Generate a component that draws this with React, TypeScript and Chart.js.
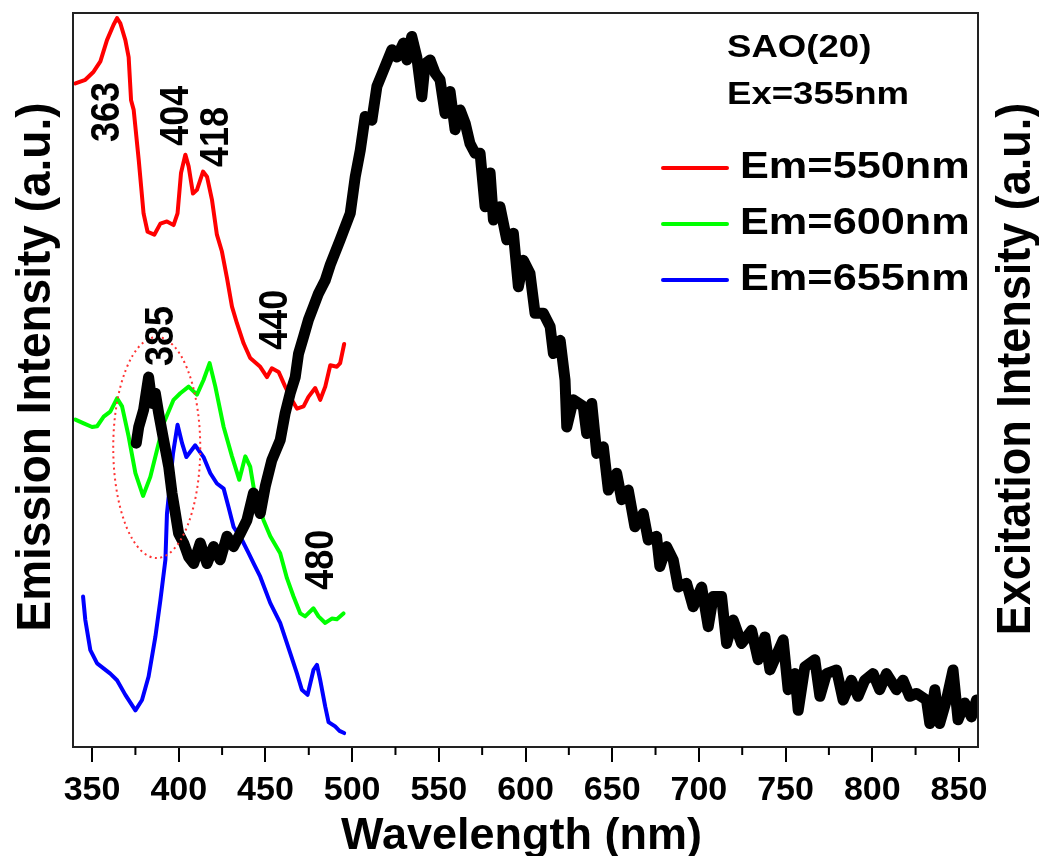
import React, { useEffect, useRef } from "react";
import { Chart, registerables } from "chart.js";

Chart.register(...registerables);

const FONT = '"Liberation Sans", Arial, Helvetica, sans-serif';

// ---- axis ----
const xMin = 339;
const xMax = 861;
const xTicks = [350, 400, 450, 500, 550, 600, 650, 700, 750, 800, 850];
const xMinorTicks = [375, 425, 475, 525, 575, 625, 675, 725, 775, 825];

// ---- Em=550nm (red) ----
const redWl = [340.4, 346.1, 350.9, 354.8, 358.6, 362.4, 364.4, 366.3, 369.2, 371.1, 372.5, 374.0, 376.9, 379.7, 382.0, 385.9, 389.4, 393.2, 397.0, 399.3, 401.3, 403.8, 405.7, 408.2, 410.5, 414.0, 416.3, 419.2, 422.0, 424.9, 427.8, 430.7, 433.6, 437.4, 441.2, 447.0, 450.9, 453.7, 457.6, 461.4, 464.3, 468.2, 472.0, 474.8, 478.7, 481.6, 484.5, 487.4, 491.2, 493.1, 495.4];
const redVal = [90.4, 90.9, 92.0, 93.4, 96.3, 98.4, 99.3, 98.6, 96.3, 94.0, 88.1, 86.8, 80.0, 72.7, 70.2, 69.8, 71.3, 71.6, 71.1, 72.7, 78.2, 80.7, 79.1, 75.4, 75.9, 78.4, 77.7, 74.5, 69.8, 67.5, 63.9, 60.0, 57.7, 55.0, 53.0, 51.8, 50.4, 51.6, 51.1, 49.1, 47.7, 46.1, 46.4, 47.7, 48.9, 47.3, 49.1, 52.0, 51.8, 52.3, 54.9];

// ---- Em=600nm (green) ----
const greenWl = [340.4, 345.2, 350.0, 352.9, 356.7, 360.5, 364.4, 367.3, 371.1, 375.0, 379.4, 383.6, 387.5, 391.3, 397.0, 400.9, 405.7, 410.5, 414.3, 417.8, 421.1, 425.9, 430.7, 434.9, 438.4, 441.2, 444.1, 448.9, 452.8, 458.5, 462.4, 466.2, 470.1, 472.9, 477.7, 480.6, 484.5, 488.3, 491.2, 495.0];
const greenVal = [44.6, 44.1, 43.6, 43.7, 45.0, 45.7, 47.5, 46.4, 42.3, 37.3, 34.2, 36.8, 40.5, 44.1, 47.3, 48.2, 49.1, 48.0, 50.0, 52.3, 49.1, 43.6, 39.6, 36.4, 39.6, 38.2, 34.1, 30.9, 28.7, 26.4, 23.0, 20.5, 18.2, 17.8, 18.9, 17.8, 16.9, 17.5, 17.4, 18.2];

// ---- Em=655nm (blue) ----
const blueWl = [344.8, 346.1, 349.0, 352.9, 360.5, 364.4, 369.2, 375.0, 378.8, 382.6, 386.5, 389.4, 392.3, 393.2, 396.7, 399.3, 401.9, 404.4, 409.5, 414.3, 418.2, 422.0, 425.9, 428.7, 431.6, 436.5, 440.3, 443.6, 447.0, 452.8, 458.5, 464.3, 468.2, 471.0, 474.3, 477.7, 479.7, 481.6, 484.5, 486.4, 490.2, 492.7, 495.4];
const blueVal = [20.5, 17.3, 13.2, 11.4, 10.0, 9.1, 7.1, 5.0, 6.4, 9.6, 15.0, 20.0, 25.5, 31.8, 40.0, 43.9, 41.4, 39.5, 41.1, 39.5, 37.3, 35.9, 35.2, 32.7, 30.0, 28.2, 26.4, 24.8, 23.2, 19.6, 16.9, 12.8, 10.0, 7.8, 7.1, 10.5, 11.2, 9.1, 5.5, 3.4, 2.8, 2.2, 1.9];

// ---- Ex=355nm emission spectrum (black) ----
const blackWl = [375.5, 376.9, 379.7, 382.6, 384.6, 386.5, 388.4, 391.3, 394.2, 396.1, 398.0, 399.9, 402.8, 405.7, 408.6, 412.4, 416.3, 420.1, 423.9, 427.8, 431.6, 435.5, 439.3, 443.1, 447.0, 449.9, 453.7, 458.5, 461.4, 464.3, 467.2, 469.1, 472.0, 474.8, 477.7, 480.6, 484.5, 487.4, 493.1, 498.9, 501.8, 504.7, 507.5, 511.4, 514.3, 518.1, 522.9, 525.8, 529.6, 531.6, 534.4, 537.3, 540.2, 542.1, 545.0, 547.9, 550.7, 553.6, 556.5, 559.4, 562.3, 565.2, 568.0, 570.9, 573.8, 576.7, 579.6, 581.5, 585.3, 589.2, 593.0, 595.9, 598.8, 602.6, 605.5, 610.3, 614.2, 616.1, 620.0, 622.8, 623.8, 627.6, 633.3, 635.3, 638.2, 641.1, 644.9, 647.8, 652.6, 655.5, 659.3, 663.1, 667.9, 670.8, 675.6, 677.5, 681.4, 685.2, 688.1, 692.9, 696.7, 701.6, 705.4, 708.3, 713.1, 716.0, 719.8, 724.6, 730.4, 734.2, 738.1, 741.0, 748.6, 751.5, 755.4, 757.3, 761.1, 766.9, 769.8, 773.6, 779.4, 783.2, 788.0, 791.8, 795.7, 800.5, 804.3, 808.2, 814.0, 817.8, 821.6, 825.5, 831.3, 833.2, 836.1, 838.9, 842.8, 846.6, 849.5, 853.3, 857.2, 860.1];
const blackVal = [41.4, 43.6, 45.9, 50.4, 46.8, 48.2, 45.5, 41.8, 38.2, 34.6, 31.9, 29.1, 27.8, 25.9, 25.0, 27.8, 25.0, 27.3, 25.5, 28.7, 27.3, 29.1, 30.9, 34.6, 31.8, 35.5, 39.1, 41.8, 45.5, 48.2, 50.4, 53.6, 55.9, 58.2, 60.0, 61.8, 63.6, 65.7, 69.1, 72.7, 77.7, 81.3, 85.9, 85.4, 90.0, 92.2, 95.0, 94.0, 95.9, 93.6, 96.8, 94.0, 88.6, 93.1, 93.6, 91.8, 90.9, 86.3, 89.3, 84.1, 86.8, 85.0, 82.2, 80.9, 80.9, 73.6, 78.2, 71.8, 73.6, 69.1, 70.0, 62.7, 66.3, 64.5, 59.1, 59.1, 57.3, 53.6, 55.4, 50.0, 43.6, 47.3, 46.4, 42.7, 46.8, 40.0, 40.9, 35.0, 37.3, 33.7, 35.0, 30.0, 31.8, 28.2, 28.7, 24.6, 27.3, 25.5, 21.8, 22.3, 19.1, 21.8, 16.4, 20.5, 20.5, 14.1, 17.3, 14.1, 15.9, 11.9, 15.0, 10.5, 14.6, 7.8, 10.0, 5.0, 10.9, 11.9, 6.9, 10.0, 10.5, 6.4, 9.1, 6.9, 9.1, 10.0, 7.8, 10.0, 7.8, 9.1, 6.9, 7.3, 6.4, 3.2, 7.8, 3.2, 6.4, 10.5, 3.7, 6.0, 4.1, 6.4];

// ---- peak labels (wavelength, intensity) ----
const peakLabels = ["363", "404", "418", "440", "385", "480"];
const peakLabelWl = [359.4, 399.2, 422.2, 456.2, 390.5, 482.7];
const peakLabelVal = [86.5, 86.0, 83.1, 58.2, 56.0, 25.5];

// ---- legend ----
const legendLabels = ["Em=550nm", "Em=600nm", "Em=655nm"];
const legendColors = ["#ff0000", "#00ff00", "#0000ff"];
const infoLines = ["SAO(20)", "Ex=355nm"];

const zip = (xs: number[], ys: number[]) => xs.map((x, i) => ({ x, y: ys[i] }));

function drawText(
  ctx: CanvasRenderingContext2D,
  text: string,
  x: number,
  y: number,
  size: number,
  opts: { rotate?: number; align?: CanvasTextAlign; baseline?: CanvasTextBaseline; stretch?: number } = {}
) {
  ctx.save();
  ctx.translate(x, y);
  ctx.scale(opts.stretch ?? 1, 1);
  if (opts.rotate) ctx.rotate(opts.rotate);
  ctx.font = `bold ${size}px ${FONT}`;
  ctx.textAlign = opts.align ?? "left";
  ctx.textBaseline = opts.baseline ?? "alphabetic";
  ctx.fillStyle = "#000";
  ctx.fillText(text, 0, 0);
  ctx.restore();
}

const decorPlugin = {
  id: "decor",
  afterDatasetsDraw(chart: any) {
    const ctx: CanvasRenderingContext2D = chart.ctx;
    const { left, right, top, bottom } = chart.chartArea;
    const xs = chart.scales.x;
    const ys = chart.scales.y;

    // dotted ellipse around the 385 nm feature
    const cx = xs.getPixelForValue(387.3);
    const cy = ys.getPixelForValue(40.8);
    const rx = Math.abs(xs.getPixelForValue(387.3 + 25.1) - cx);
    const ry = Math.abs(ys.getPixelForValue(40.8 + 15.05) - cy);
    ctx.save();
    ctx.strokeStyle = "#ff3333";
    ctx.lineWidth = 2;
    ctx.setLineDash([2, 3.5]);
    ctx.beginPath();
    ctx.ellipse(cx, cy, rx, ry, 0, 0, Math.PI * 2);
    ctx.stroke();
    ctx.restore();

    // frame
    ctx.save();
    ctx.strokeStyle = "#222";
    ctx.lineWidth = 2;
    ctx.strokeRect(left, top, right - left, bottom - top);
    // minor ticks
    ctx.strokeStyle = "#000";
    ctx.beginPath();
    xMinorTicks.forEach((v) => {
      const px = xs.getPixelForValue(v);
      ctx.moveTo(px, bottom);
      ctx.lineTo(px, bottom + 8);
    });
    ctx.stroke();
    ctx.restore();

    // peak labels
    peakLabels.forEach((t, i) => {
      drawText(ctx, t, xs.getPixelForValue(peakLabelWl[i]), ys.getPixelForValue(peakLabelVal[i]), 36, {
        rotate: -Math.PI / 2,
        align: "center",
        baseline: "middle",
        stretch: 1.12,
      });
    });

    // info text
    drawText(ctx, infoLines[0], 727, 57, 31, { stretch: 1.18 });
    drawText(ctx, infoLines[1], 727, 104, 31, { stretch: 1.18 });

    // legend
    legendLabels.forEach((t, i) => {
      const ly = 168 + i * 56;
      ctx.save();
      ctx.strokeStyle = legendColors[i];
      ctx.lineWidth = 4;
      ctx.lineCap = "round";
      ctx.beginPath();
      ctx.moveTo(663, ly);
      ctx.lineTo(727, ly);
      ctx.stroke();
      ctx.restore();
      drawText(ctx, t, 740, ly + 10, 37, { stretch: 1.17 });
    });

    // axis titles
    drawText(ctx, "Emission Intensity (a.u.)", 50, 367, 46, { rotate: -Math.PI / 2, align: "center", stretch: 1.05 });
    drawText(ctx, "Excitation Intensity (a.u.)", 1030, 369, 45, { rotate: -Math.PI / 2, align: "center", stretch: 1.05 });
    drawText(ctx, "Wavelength (nm)", (left + right) / 2 - 4, 849, 45, { align: "center" });
  },
};

export default function App() {
  const ref = useRef<HTMLCanvasElement | null>(null);

  useEffect(() => {
    if (!ref.current) return;
    const line = (data: { x: number; y: number }[], color: string, width: number) => ({
      data,
      borderColor: color,
      backgroundColor: color,
      borderWidth: width,
      pointRadius: 0,
      tension: 0,
      fill: false,
      borderJoinStyle: "round" as const,
      borderCapStyle: "round" as const,
    });
    const chart = new Chart(ref.current, {
      type: "line",
      data: {
        datasets: [
          { label: "Ex=355nm", ...line(zip(blackWl, blackVal), "#000000", 11) },
          { label: legendLabels[0], ...line(zip(redWl, redVal), legendColors[0], 4) },
          { label: legendLabels[1], ...line(zip(greenWl, greenVal), legendColors[1], 4) },
          { label: legendLabels[2], ...line(zip(blueWl, blueVal), legendColors[2], 4) },
        ],
      },
      options: {
        responsive: false,
        animation: false,
        layout: { padding: { top: 13, left: 73, right: 61, bottom: 0 } },
        plugins: {
          legend: { display: false },
          tooltip: { enabled: false },
          title: { display: false },
        },
        scales: {
          x: {
            type: "linear",
            min: xMin,
            max: xMax,
            afterBuildTicks: (s: any) => {
              s.ticks = xTicks.map((v) => ({ value: v }));
            },
            afterFit: (s: any) => {
              s.height = 109;
            },
            grid: {
              display: true,
              drawOnChartArea: false,
              drawTicks: true,
              tickLength: 15,
              color: "#000",
              lineWidth: 2,
            },
            border: { display: false },
            ticks: {
              font: { family: FONT, size: 34, weight: "bold" },
              color: "#000",
              padding: 8,
              maxRotation: 0,
              autoSkip: false,
              callback: (v: any) => String(v),
            },
          },
          y: { display: false, min: 0, max: 100 },
        },
      },
      plugins: [decorPlugin],
    });
    return () => chart.destroy();
  }, []);

  return (
    <div style={{ position: "absolute", left: 0, top: 0, width: 1039, height: 856, background: "#fff" }}>
      <canvas ref={ref} width={1039} height={856} style={{ display: "block" }} />
    </div>
  );
}
